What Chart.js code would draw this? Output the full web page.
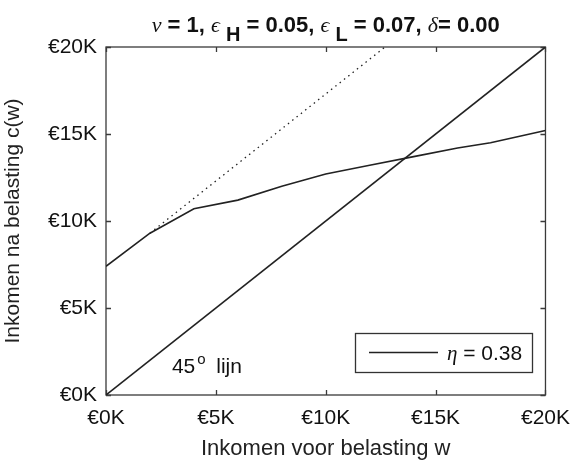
<!DOCTYPE html>
<html>
<head>
<meta charset="utf-8">
<script src="https://cdn.jsdelivr.net/npm/chart.js@4.4.1/dist/chart.umd.min.js"></script>
<style>
  html, body { margin: 0; padding: 0; background: #fff; }
  #wrap { width: 581px; height: 465px; }
</style>
</head>
<body>
<div id="wrap"><canvas id="c" width="581" height="465"></canvas></div>
<script>
// Pre-tax income (w) and post-tax income c(w), in euros
const incomeW    = [0, 2000, 4000, 6000, 8000, 10000, 12000, 14000, 16000, 17500, 20000];
const netIncome  = [7400, 9300, 10700, 11200, 12000, 12700, 13200, 13700, 14200, 14500, 15200];

// Dotted continuation of the first segment
const dottedW = [2000, 12700];
const dottedC = [9300, 20000];

// 45 degree reference line
const diagW = [0, 20000];
const diagC = [0, 20000];

// Axis ticks
const tickValues = [0, 5000, 10000, 15000, 20000];
const tickLabel = v => '€' + (v / 1000) + 'K';

const etaLabel = '0.38';

const SANS = '"Liberation Sans", Arial, sans-serif';
const SERIF = '"Liberation Serif", "DejaVu Serif", serif';

const pts = (xs, ys) => xs.map((x, i) => ({ x, y: ys[i] }));

// Box around the plot with inward tick marks on all four sides
const framePlugin = {
  id: 'frame',
  beforeDatasetsDraw(chart) {
    const { ctx, chartArea: a, scales: { x, y } } = chart;
    ctx.save();
    ctx.strokeStyle = '#3a3a3a';
    ctx.lineWidth = 1.3;
    ctx.strokeRect(a.left, a.top, a.right - a.left, a.bottom - a.top);
    const tl = 5;
    ctx.beginPath();
    tickValues.forEach(v => {
      const px = Math.round(x.getPixelForValue(v)) + 0.5;
      ctx.moveTo(px, a.bottom); ctx.lineTo(px, a.bottom - tl);
      ctx.moveTo(px, a.top); ctx.lineTo(px, a.top + tl);
      const py = Math.round(y.getPixelForValue(v)) + 0.5;
      ctx.moveTo(a.left, py); ctx.lineTo(a.left + tl, py);
      ctx.moveTo(a.right, py); ctx.lineTo(a.right - tl, py);
    });
    ctx.stroke();
    ctx.restore();
  }
};

// Title with Greek symbols and subscripts, plus in-plot annotations and legend box
const textPlugin = {
  id: 'texts',
  afterDraw(chart) {
    const { ctx, chartArea: a, scales: { x, y } } = chart;
    ctx.save();
    ctx.fillStyle = '#111';
    ctx.textBaseline = 'alphabetic';
    ctx.textAlign = 'left';

    const bold = 'bold 22px ' + SANS;
    const greek = 'italic 22px ' + SERIF;
    const sub = 'bold 20px ' + SANS;
    const parts = [
      ['ν', greek, 0], [' = 1, ', bold, 0],
      ['ϵ', greek, 0], [' ', bold, 0], ['H', sub, 9], [' = 0.05, ', bold, 0],
      ['ϵ', greek, 0], [' ', bold, 0], ['L', sub, 9], [' = 0.07, ', bold, 0],
      ['δ', greek, 0], ['= 0.00', bold, 0]
    ];
    let total = 0;
    parts.forEach(p => { ctx.font = p[1]; total += ctx.measureText(p[0]).width; });
    let cx = (a.left + a.right) / 2 - total / 2;
    const base = 32;
    parts.forEach(p => {
      ctx.font = p[1];
      ctx.fillText(p[0], cx, base + p[2]);
      cx += ctx.measureText(p[0]).width;
    });

    // "45° lijn" label next to the diagonal
    const lx = x.getPixelForValue(3000);
    const ly = y.getPixelForValue(1250);
    ctx.font = '21px ' + SANS;
    ctx.fillText('45', lx, ly);
    let w45 = ctx.measureText('45').width;
    ctx.font = '15px ' + SANS;
    ctx.fillText('o', lx + w45 + 2, ly - 9);
    ctx.font = '21px ' + SANS;
    ctx.fillText('lijn', lx + w45 + 21, ly);

    // Legend box
    const bx = 355, by = 333, bw = 177, bh = 39;
    ctx.fillStyle = '#fff';
    ctx.fillRect(bx, by, bw, bh);
    ctx.strokeStyle = '#333';
    ctx.lineWidth = 1.3;
    ctx.strokeRect(bx + 0.5, by + 0.5, bw, bh);
    ctx.strokeStyle = '#222';
    ctx.lineWidth = 1.5;
    ctx.beginPath();
    ctx.moveTo(369, by + 19.5); ctx.lineTo(438, by + 19.5);
    ctx.stroke();
    ctx.fillStyle = '#111';
    ctx.font = 'italic 21px ' + SERIF;
    ctx.fillText('η', 447, by + 27);
    const ew = ctx.measureText('η').width;
    ctx.font = '21px ' + SANS;
    ctx.fillText(' = ' + etaLabel, 447 + ew, by + 27);
    ctx.restore();
  }
};

new Chart(document.getElementById('c'), {
  type: 'line',
  data: {
    datasets: [
      { label: 'η = ' + etaLabel, data: pts(incomeW, netIncome), borderColor: '#222', borderWidth: 1.6, pointRadius: 0, tension: 0 },
      { label: 'dotted', data: pts(dottedW, dottedC), borderColor: '#222', borderWidth: 1.3, borderDash: [1.5, 4], pointRadius: 0, tension: 0 },
      { label: '45° lijn', data: pts(diagW, diagC), borderColor: '#222', borderWidth: 1.6, pointRadius: 0, tension: 0 }
    ]
  },
  options: {
    responsive: false,
    animation: false,
    devicePixelRatio: 1,
    layout: { padding: { top: 47, right: 28, left: 0, bottom: 0 } },
    plugins: { legend: { display: false }, tooltip: { enabled: false }, title: { display: false } },
    scales: {
      x: {
        type: 'linear', min: 0, max: 20000,
        afterFit: s => { s.height = 70; },
        afterBuildTicks: s => { s.ticks = tickValues.map(v => ({ value: v })); },
        grid: { display: false, drawTicks: false },
        border: { display: false },
        ticks: { callback: tickLabel, color: '#111', font: { family: SANS, size: 21 }, padding: 11, maxRotation: 0 },
        title: { display: true, text: 'Inkomen voor belasting w', color: '#222', font: { family: SANS, size: 22 }, padding: { top: 0, bottom: 3 } }
      },
      y: {
        type: 'linear', min: 0, max: 20000,
        afterFit: s => { s.width = 106; },
        afterBuildTicks: s => { s.ticks = tickValues.map(v => ({ value: v })); },
        grid: { display: false, drawTicks: false },
        border: { display: false },
        ticks: { callback: tickLabel, color: '#111', font: { family: SANS, size: 21 }, padding: 9 },
        title: { display: true, text: 'Inkomen na belasting c(w)', color: '#222', font: { family: SANS, size: 21 }, padding: { top: 1, bottom: 0 } }
      }
    }
  },
  plugins: [framePlugin, textPlugin]
});
</script>
</body>
</html>
